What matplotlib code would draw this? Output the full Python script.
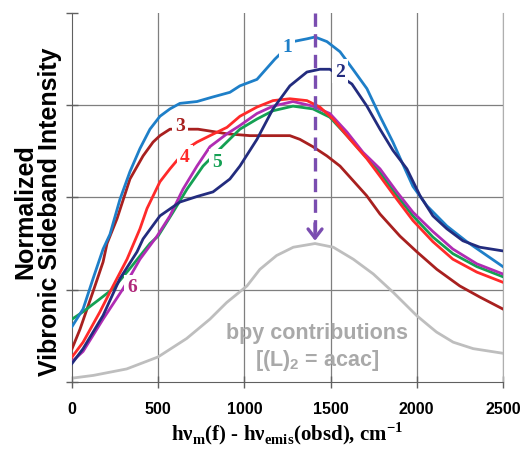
import matplotlib
matplotlib.use('Agg')
import matplotlib.pyplot as plt

plt.rcParams['mathtext.fontset'] = 'custom'
plt.rcParams['mathtext.rm'] = 'Liberation Serif'
plt.rcParams['mathtext.bf'] = 'Liberation Serif:bold'

# curve 1 (light blue)
x1 = [0, 64, 122, 180, 220, 278, 336, 394, 452, 510, 568, 626, 725, 818, 916, 974, 1073, 1177,
      1282, 1363, 1410, 1479, 1555, 1630, 1711, 1787, 1862, 1910, 1978, 2059, 2175, 2291, 2407, 2500]
y1 = [0.60, 0.79, 1.12, 1.44, 1.60, 1.98, 2.28, 2.53, 2.74, 2.88, 2.96, 3.02, 3.04, 3.09, 3.14, 3.21, 3.28, 3.50,
      3.69, 3.72, 3.74, 3.69, 3.58, 3.39, 3.18, 2.88, 2.60, 2.40, 2.12, 1.91, 1.69, 1.52, 1.37, 1.25]
# curve 2 (navy)
x2 = [0, 64, 180, 278, 377, 412, 510, 626, 725, 818, 916, 974, 1073, 1166, 1264, 1363, 1438, 1496,
      1624, 1711, 1787, 1862, 1943, 2019, 2094, 2175, 2268, 2366, 2500]
y2 = [0.20, 0.36, 0.72, 1.12, 1.41, 1.55, 1.80, 1.95, 2.01, 2.06, 2.20, 2.34, 2.63, 2.96, 3.21, 3.36, 3.39, 3.39,
      3.23, 2.99, 2.74, 2.51, 2.31, 2.02, 1.80, 1.66, 1.53, 1.46, 1.42]
# curve 3 (dark red)
x3 = [0, 46, 122, 180, 203, 261, 336, 412, 470, 510, 568, 731, 800, 899, 1032, 1206, 1264, 1322,
      1398, 1479, 1555, 1709, 1787, 1903, 2001, 2117, 2250, 2366, 2500]
y3 = [0.36, 0.57, 0.98, 1.30, 1.50, 1.77, 2.20, 2.45, 2.60, 2.67, 2.74, 2.74, 2.72, 2.69, 2.67, 2.67, 2.67, 2.63,
      2.55, 2.45, 2.34, 2.02, 1.82, 1.58, 1.41, 1.22, 1.04, 0.92, 0.79]
# curve 4 (red)
x4 = [0, 64, 162, 238, 319, 394, 435, 510, 568, 667, 725, 800, 899, 974, 1073, 1166, 1264, 1363,
      1438, 1514, 1613, 1711, 1787, 1885, 1978, 2094, 2210, 2349, 2500]
y4 = [0.27, 0.43, 0.76, 1.04, 1.33, 1.66, 1.88, 2.17, 2.31, 2.53, 2.60, 2.67, 2.76, 2.88, 2.98, 3.05, 3.07, 3.05,
      2.98, 2.85, 2.63, 2.42, 2.23, 1.98, 1.75, 1.52, 1.33, 1.19, 1.08]
# curve 5 (green)
x5 = [0, 64, 162, 238, 336, 452, 499, 586, 667, 760, 876, 974, 1073, 1166, 1282, 1398, 1496, 1600,
      1700, 1787, 1885, 1978, 2094, 2210, 2349, 2500]
y5 = [0.68, 0.76, 0.90, 1.01, 1.23, 1.50, 1.58, 1.84, 2.09, 2.34, 2.56, 2.74, 2.85, 2.94, 2.99, 2.96, 2.87, 2.66,
      2.45, 2.27, 2.02, 1.80, 1.57, 1.39, 1.25, 1.14]
# curve 6 (magenta)
x6 = [0, 64, 180, 296, 394, 493, 568, 644, 725, 800, 899, 974, 1073, 1166, 1282, 1398, 1496, 1595,
      1688, 1787, 1885, 1978, 2094, 2210, 2349, 2500]
y6 = [0.22, 0.33, 0.68, 1.01, 1.33, 1.58, 1.80, 2.09, 2.34, 2.55, 2.69, 2.78, 2.91, 2.99, 3.04, 2.99, 2.91, 2.71,
      2.49, 2.31, 2.06, 1.84, 1.63, 1.44, 1.28, 1.17]
# bpy contribution (gray)
xg = [0, 124, 317, 499, 665, 800, 897, 1015, 1090, 1187, 1284, 1410, 1516, 1632, 1748, 1864,
      1999, 2076, 2115, 2212, 2328, 2500]
yg = [0.04, 0.07, 0.14, 0.27, 0.47, 0.68, 0.86, 1.04, 1.22, 1.37, 1.46, 1.50, 1.46, 1.33, 1.17, 0.97,
      0.72, 0.60, 0.54, 0.43, 0.36, 0.31]

colors = {'1': '#1E7FC8', '2': '#232C7E', '3': '#A8201F', '4': '#FF2A2A', '5': '#14A053', '6': '#B02CB3'}
series = {'1': (x1, y1), '2': (x2, y2), '3': (x3, y3), '4': (x4, y4), '5': (x5, y5), '6': (x6, y6)}
draw_order = ['3', '5', '6', '4', '1', '2']
label_pos = {'1': (1247, 3.64), '2': (1555, 3.37), '3': (626, 2.78), '4': (655, 2.44),
             '5': (841, 2.39), '6': (348, 1.03)}
label_colors = dict(colors, **{'6': '#B0287A'})

peak_x = 1410

fig = plt.figure(figsize=(5.26, 4.52), dpi=100)
ax = fig.add_axes([0.137, 0.153, 0.819, 0.816])

ax.plot(xg, yg, color='#BEBEBE', lw=2.0, zorder=2)
for k in draw_order:
    x, y = series[k]
    ax.plot(x, y, color=colors[k], lw=2.0, zorder=3)

for k, (lx, ly) in label_pos.items():
    ax.text(lx, ly, k, color=label_colors[k], fontsize=14, fontweight='bold', family='Liberation Serif',
            ha='center', va='center', zorder=5,
            bbox=dict(fc='white', ec='none', pad=2.5))

# dashed arrow down to the bpy peak
ax.plot([peak_x, peak_x], [4.0, 1.62], color='#7A4DB0', lw=2.4, dashes=(4, 2.2), zorder=6)
ax.annotate('', xy=(peak_x, max(yg)), xytext=(peak_x, max(yg) + 0.25),
            arrowprops=dict(arrowstyle='->,head_width=0.5,head_length=0.65',
                            color='#7A4DB0', lw=2.4), zorder=6)

ax.text(1421, 0.54, 'bpy contributions', color='#A9A9A9', fontsize=15.5, fontweight='bold',
        family='Liberation Sans', ha='center', va='center', zorder=4)
ax.text(1421, 0.24, r'[(L)$_\mathregular{2}$ = acac]', color='#A9A9A9', fontsize=15.5,
        fontweight='bold', family='Liberation Sans', ha='center', va='center', zorder=4)

ax.set_xlim(0, 2500)
ax.set_ylim(0, 4)
ax.set_xticks([0, 500, 1000, 1500, 2000, 2500])
ax.set_yticks([0, 1, 2, 3, 4])
ax.set_yticklabels([])
ax.grid(True, color='#7F7F7F', lw=0.9)
ax.yaxis.get_gridlines()[-1].set_visible(False)
ax.yaxis.get_gridlines()[0].set_visible(False)
ax.xaxis.get_gridlines()[0].set_visible(False)
ax.set_axisbelow(True)
ax.spines['top'].set_visible(False)
ax.spines['right'].set_color('#AFAFAF')
ax.spines['left'].set_color('#606060')
ax.spines['bottom'].set_color('#606060')
ax.tick_params(direction='inout', length=8, width=1, color='#606060')
for lab in ax.get_xticklabels():
    lab.set_fontweight('bold')
    lab.set_family('Liberation Sans')
    lab.set_fontsize(11.5)
ax.tick_params(axis='x', pad=10)

ax.set_xlabel(r'hν$_\mathbf{m}$(f) - hν$_\mathbf{emis}$(obsd), cm$^\mathbf{-1}$', fontsize=15,
              fontweight='bold', family='Liberation Serif', labelpad=2)
fig.text(0.072, 0.531, 'Normalized\nVibronic Sideband Intensity', fontsize=18, fontweight='bold',
         family='Liberation Sans', rotation=90, ha='center', va='center', multialignment='center',
         linespacing=1.05)

fig.savefig('out.png', dpi=100)
